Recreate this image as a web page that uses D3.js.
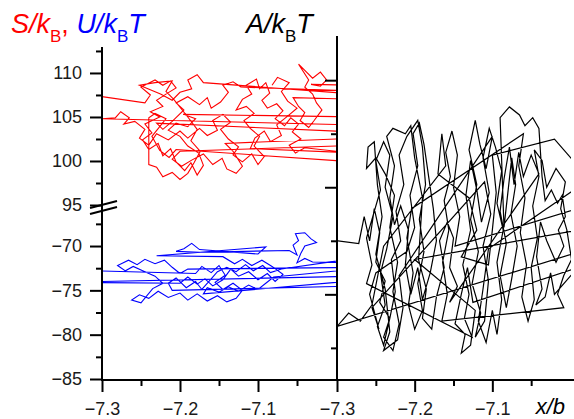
<!DOCTYPE html>
<html>
<head>
<meta charset="utf-8">
<script src="https://cdn.jsdelivr.net/npm/d3@7"></script>
<style>
  body { margin: 0; background: #fff; }
  text { font-family: "Liberation Sans", Arial, sans-serif; }
</style>
</head>
<body>
<svg id="chart" width="574" height="419"></svg>
<script>
// Globals
const width = 574, height = 419;
const svg = d3.select("#chart");

// tick values
const xMajor = [-7.3, -7.2, -7.1];
const xMinor = [-7.25, -7.15, -7.05];
const sMajor = [95, 100, 105, 110];
const sMinor = [97.5, 102.5, 107.5, 112.5];
const uMajor = [-85, -80, -75, -70];
const uMinor = [-82.5, -77.5, -72.5, -67.5];
const aMajor = [-182, -178, -174];
const aMinor = [-184, -180, -176];

// S/kB trajectory [x/b, S/kB]
const sData = [
  [-7.36,108.1],[-7.245,106.6],[-7.238,107.5],[-7.25,108.4],[-7.232,109.2],[-7.222,108.6],
  [-7.212,109.1],[-7.205,108.3],[-7.218,107.6],[-7.23,106.9],[-7.222,106.2],[-7.238,105.6],
  [-7.226,105.0],[-7.245,104.2],[-7.236,103.2],[-7.248,102.4],[-7.24,101.3],[-7.228,102.0],
  [-7.222,100.6],[-7.212,101.4],[-7.205,99.9],[-7.194,98.9],[-7.186,99.8],[-7.178,98.4],
  [-7.17,99.5],[-7.176,100.9],[-7.19,101.7],[-7.2,102.8],[-7.215,103.5],[-7.205,104.3],
  [-7.19,103.9],[-7.18,104.8],[-7.196,105.3],[-6.97,105.0],[-6.98,104.1],[-7.3,104.8],
  [-7.283,104.9],[-7.276,105.6],[-7.265,104.9],[-7.272,104.2],[-7.258,104.5],[-7.245,103.6],
  [-7.252,102.6],[-7.24,101.8],[-7.23,103.1],[-7.215,102.4],[-7.2,103.4],[-7.19,102.6],
  [-7.175,103.7],[-7.165,102.9],[-7.152,103.5],[-7.158,104.6],[-7.145,105.3],[-7.135,104.4],
  [-7.148,103.6],[-7.138,102.5],[-7.125,101.6],[-7.132,100.7],[-7.12,99.9],[-7.108,100.8],
  [-7.1,99.6],[-7.092,100.5],[-7.105,101.7],[-7.098,102.8],[-7.11,103.7],[-7.118,104.6],
  [-7.105,105.4],[-7.115,106.2],[-7.128,105.8],[-7.12,107.0],[-7.108,107.6],[-7.115,108.6],
  [-7.102,109.3],[-7.098,108.2],[-7.09,108.9],[-7.085,107.7],[-7.095,106.9],[-7.088,106.0],
  [-7.076,106.5],[-7.068,105.7],[-7.078,104.8],[-7.066,104.0],[-7.058,104.9],[-7.048,104.2],
  [-7.056,103.3],[-7.045,102.5],[-7.06,101.8],[-7.052,100.9],[-7.04,101.5],[-6.96,100.7],
  [-6.97,101.8],[-7.2,101.1],[-7.21,100.2],[-7.198,99.4],[-7.185,100.1],[-7.17,100.8],
  [-7.158,99.6],[-7.146,100.3],[-7.14,99.1],[-7.128,98.6],[-7.12,99.4],[-7.132,101.1],
  [-7.142,102.0],[-6.97,102.6],[-6.975,103.3],[-7.23,104.3],[-7.222,103.6],[-7.21,104.5],
  [-7.195,105.8],[-7.205,106.6],[-7.19,107.3],[-7.175,106.4],[-7.165,107.2],[-7.16,106.0],
  [-7.148,106.7],[-7.138,107.8],[-7.145,108.6],[-7.132,109.0],[-7.122,108.4],[-6.96,107.9],
  [-6.965,107.0],[-7.055,107.2],[-7.048,106.2],[-7.04,105.5],[-7.046,104.6],[-7.035,103.8],
  [-7.028,104.6],[-7.018,105.8],[-7.025,106.6],[-7.03,107.6],[-7.04,108.4],[-7.035,109.2],
  [-7.048,111.0],[-7.03,109.4],[-7.02,110.1],[-7.012,109.2],[-7.02,108.5],[-7.032,108.7],
  [-6.97,108.6],[-6.975,107.6],[-7.17,108.9],[-7.178,109.8],[-7.19,109.2],[-7.185,108.2],
  [-7.2,107.8],[-7.21,106.9],[-7.225,107.6],[-7.252,108.6],[-7.232,108.9],[-7.21,109.1],
  [-7.218,107.9],[-7.208,107.0],[-7.19,105.0],[-7.178,103.6],[-7.186,102.3],[-7.174,101.1],
  [-7.182,99.8],[-7.19,98.6],[-7.2,97.9],[-7.21,98.7],[-7.222,98.2],[-7.23,99.3],
  [-7.24,99.6],[-7.24,104.9],[-7.232,105.4],[-7.218,104.8],[-7.226,103.9],[-7.236,102.8],
  [-7.226,101.2],[-7.214,100.4],[-7.205,101.3],[-6.96,99.8],[-6.968,100.9],[-7.11,101.4],
  [-7.104,102.6],[-7.092,103.4],[-7.084,102.2],[-7.07,102.9],[-7.076,104.1],[-7.062,105.1],
  [-7.05,106.0],[-7.062,106.8],[-7.07,107.9],[-7.06,108.9],[-7.075,109.5],[-7.082,108.6]
];

// U/kBT trajectory [x/b, U/kBT]
const uData = [
  [-7.35,-72.7],[-7.18,-73.1],[-7.172,-72.3],[-7.16,-73.0],[-7.15,-72.2],[-7.142,-73.3],
  [-7.155,-74.1],[-7.145,-74.9],[-7.132,-74.2],[-7.12,-75.0],[-7.128,-75.9],[-7.14,-76.3],
  [-7.152,-75.6],[-7.165,-76.2],[-7.178,-75.4],[-7.19,-76.1],[-7.2,-75.3],[-7.215,-75.8],
  [-7.228,-75.1],[-7.24,-75.9],[-7.252,-75.5],[-7.262,-76.1],[-7.25,-76.4],[-7.235,-74.8],
  [-7.222,-74.2],[-7.232,-73.4],[-7.245,-72.9],[-7.26,-72.3],[-7.27,-72.8],[-7.28,-72.2],
  [-7.266,-71.6],[-7.255,-72.1],[-7.245,-71.5],[-7.232,-72.0],[-7.22,-71.6],[-7.21,-72.4],
  [-7.2,-73.1],[-7.19,-72.6],[-6.96,-72.4],[-6.97,-73.4],[-7.35,-74.1],[-7.2,-74.2],
  [-7.19,-73.5],[-7.178,-74.3],[-7.168,-73.7],[-7.158,-74.5],[-7.145,-73.8],[-7.135,-72.6],
  [-7.125,-73.4],[-7.112,-72.9],[-7.1,-73.8],[-7.088,-73.1],[-7.078,-74.0],[-7.068,-73.2],
  [-7.082,-72.3],[-7.095,-71.6],[-7.108,-72.2],[-7.12,-71.5],[-7.13,-72.0],[-7.145,-71.2],
  [-7.23,-71.1],[-7.09,-70.1],[-7.1,-70.9],[-7.175,-70.4],[-7.185,-69.7],[-7.195,-70.3],
  [-7.205,-70.6],[-7.175,-70.7],[-7.06,-70.5],[-7.05,-71.0],[-7.055,-69.9],[-7.048,-69.4],
  [-7.052,-68.6],[-7.04,-68.5],[-7.032,-69.2],[-7.025,-69.6],[-7.04,-70.0],[-7.045,-70.8],
  [-7.05,-71.9],[-7.04,-71.4],[-7.03,-71.8],[-6.97,-71.9],[-6.975,-72.6],[-7.08,-73.5],
  [-7.09,-74.2],[-7.1,-74.9],[-7.112,-74.4],[-7.125,-75.1],[-7.138,-74.6],[-7.15,-75.2],
  [-7.165,-74.7],[-7.17,-75.4],[-6.96,-73.8],[-6.97,-74.5],[-7.21,-75.0],[-7.215,-74.2],
  [-7.205,-73.6],[-7.192,-74.7],[-7.18,-74.0],[-7.172,-74.9],[-7.162,-73.9],[-7.152,-72.9],
  [-7.14,-72.4],[-7.128,-72.9],[-7.116,-72.1],[-7.106,-72.8],[-7.094,-72.2],[-7.084,-73.0],
  [-7.07,-72.6],[-6.96,-71.2]
];

// A/kBT trajectory [x/b, A/kBT]
const aData = [
  [-7.30,-180.0],[-7.272,-180.1],[-7.265,-179.1],[-7.258,-180.0],[-7.252,-178.8],[-7.245,-179.7],
  [-7.25,-180.8],[-7.238,-181.5],[-7.245,-182.3],[-7.232,-182.9],[-7.24,-183.6],[-7.228,-184.1],
  [-7.22,-183.1],[-7.228,-181.9],[-7.222,-180.8],[-7.232,-179.5],[-7.226,-178.3],[-7.238,-177.5],
  [-7.25,-176.9],[-7.262,-177.3],[-7.26,-176.5],[-7.252,-176.3],[-7.248,-177.9],[-7.242,-179.1],
  [-7.25,-180.5],[-7.238,-181.8],[-7.232,-183.4],[-7.24,-184.1],[-7.222,-183.7],[-7.215,-182.5],
  [-7.22,-181.3],[-7.10,-176.1],[-7.108,-177.3],[-7.116,-176.4],[-7.122,-175.5],[-7.13,-176.6],
  [-7.12,-177.9],[-7.128,-179.2],[-7.118,-180.4],[-7.126,-181.6],[-7.115,-182.7],[-7.122,-183.6],
  [-7.11,-183.0],[-7.105,-181.5],[-7.112,-180.2],[-7.102,-179.0],[-7.11,-177.8],[-7.255,-182.5],
  [-7.246,-183.3],[-7.258,-182.0],[-7.25,-181.2],[-7.21,-180.4],[-7.2,-179.5],[-7.206,-178.3],
  [-7.196,-177.2],[-7.202,-176.0],[-7.194,-175.6],[-7.188,-176.4],[-7.182,-177.6],[-7.176,-178.8],
  [-7.172,-180.0],[-7.18,-181.2],[-7.19,-182.2],[-7.196,-181.0],[-7.205,-182.0],[-7.212,-180.9],
  [-7.208,-179.6],[-7.218,-178.7],[-7.226,-179.4],[-7.232,-178.4],[-7.226,-177.2],[-7.236,-176.1],
  [-7.228,-175.8],[-7.212,-176.0],[-7.205,-175.7],[-7.2,-176.9],[-7.19,-178.4],[-7.195,-180.7],
  [-7.185,-181.8],[-7.19,-182.9],[-7.178,-183.3],[-7.172,-182.1],[-7.162,-181.0],[-7.168,-180.0],
  [-7.158,-179.3],[-7.15,-179.9],[-7.155,-181.0],[-7.145,-181.7],[-7.155,-182.3],[-7.04,-177.5],
  [-7.05,-176.8],[-7.06,-177.6],[-7.066,-176.7],[-7.072,-177.9],[-7.078,-176.5],[-7.085,-177.7],
  [-7.09,-178.9],[-7.082,-180.1],[-7.09,-181.3],[-7.082,-182.5],[-7.075,-181.4],[-7.068,-180.2],
  [-7.076,-179.0],[-7.07,-177.9],[-7.075,-176.9],[-7.085,-179.5],[-7.088,-177.0],[-7.09,-175.4],
  [-7.078,-175.0],[-7.065,-175.3],[-7.058,-175.7],[-7.048,-175.4],[-7.04,-175.8],[-7.036,-177.6],
  [-7.032,-178.5],[-7.024,-178.1],[-7.016,-178.6],[-7.01,-178.3],[-7.006,-179.1],[-7.015,-179.6],
  [-7.008,-180.2],[-7.018,-180.8],[-7.03,-180.0],[-7.038,-179.3],[-7.043,-180.6],[-7.036,-181.8],
  [-7.044,-182.4],[-7.032,-182.1],[-7.025,-181.2],[-7.02,-182.0],[-6.99,-181.0],[-7.125,-182.3],
  [-7.132,-181.0],[-7.14,-182.0],[-7.148,-183.1],[-7.135,-183.5],[-7.14,-184.2],[-7.128,-183.9],
  [-7.122,-182.6],[-7.2,-180.7],[-6.99,-179.6],[-6.998,-180.5],[-7.3,-183.2],[-7.285,-182.7],
  [-7.27,-183.0],[-7.255,-182.4],[-7.24,-180.2],[-7.16,-177.2],[-7.165,-176.0],[-7.17,-177.5],
  [-7.13,-178.4],[-7.12,-179.6],[-7.14,-180.6],[-7.105,-180.9],[-7.1,-179.6],[-7.095,-178.2],
  [-7.1,-176.8],[-7.02,-176.2],[-6.99,-177.2],[-6.995,-178.1],[-7.105,-180.3],[-7.112,-181.8],
  [-7.118,-183.0],[-7.108,-183.8],[-7.1,-182.6],[-7.094,-183.5],[-7.088,-182.2],[-7.094,-180.8],
  [-7.086,-179.6],[-7.094,-178.6],[-7.088,-177.4],[-7.096,-176.5],[-7.104,-175.8],[-7.112,-176.9],
  [-7.104,-178.2],[-7.114,-179.3],[-7.12,-178.1],[-7.128,-177.0],[-7.134,-178.3],[-7.128,-179.6],
  [-7.138,-180.9],[-7.13,-182.0],[-7.136,-182.9],[-7.126,-183.6],[-7.262,-181.6],[-7.255,-180.9],
  [-7.262,-179.9],[-7.252,-178.9],[-7.244,-178.1],[-7.25,-177.0],[-7.24,-176.3],[-7.232,-176.8],
  [-7.238,-178.0],[-7.228,-179.1],[-7.236,-180.3],[-7.244,-181.2],[-7.238,-182.4],[-7.248,-183.2],
  [-7.24,-183.9],[-7.232,-182.9],[-7.225,-181.9],[-7.23,-180.7],[-7.218,-180.0],[-7.224,-178.9],
  [-7.214,-177.9],[-7.22,-176.8],[-7.21,-176.1],[-7.196,-175.5],[-7.19,-176.5],[-7.186,-177.9],
  [-7.194,-179.2],[-7.188,-180.4],[-7.196,-181.6],[-7.19,-182.6],[-7.2,-183.3],[-7.208,-182.4],
  [-7.202,-181.2],[-7.21,-179.9],[-7.204,-178.8],[-7.06,-176.0],[-7.066,-177.2],[-7.058,-178.4],
  [-7.064,-179.7],[-7.056,-180.9],[-7.062,-182.1],[-7.054,-183.0],[-7.046,-182.2],[-7.05,-181.0],
  [-7.042,-179.9],[-7.048,-178.7],[-7.04,-177.6],[-7.046,-176.6],[-7.036,-177.0],[-7.03,-178.0],
  [-7.018,-177.3],[-7.006,-177.8],[-7.012,-178.8],[-7.004,-179.6],[-6.998,-180.7],[-7.008,-181.3],
  [-7.016,-182.0],[-7.008,-182.5],[-7.165,-183.0],[-7.158,-182.0],[-7.164,-180.8],[-7.156,-179.6],
  [-7.162,-178.5],[-7.154,-177.6],[-7.16,-176.7],[-7.152,-175.9],[-7.145,-176.8],[-7.15,-178.0],
  [-7.142,-179.1],[-7.148,-180.2],[-6.99,-178.8]
];

// Scales
const axisY = 380;
const xL = d3.scaleLinear().domain([-7.3, -7.0]).range([102, 336]);
const xR = d3.scaleLinear().domain([-7.3, -7.0]).range([337, 570]);
const yS = d3.scaleLinear().domain([95, 112.95]).range([205, 47]);
const yU = d3.scaleLinear().domain([-85, -66.5]).range([379, 215]);
const yA = d3.scaleLinear().domain([-185.2, -172.35]).range([380, 36]);

// clip regions for the two panels
const defs = svg.append("defs");
defs.append("clipPath").attr("id", "clipL")
  .append("rect").attr("x", 102).attr("y", 30).attr("width", 234).attr("height", 350);
defs.append("clipPath").attr("id", "clipR")
  .append("rect").attr("x", 338).attr("y", 30).attr("width", 233).attr("height", 350);

function drawTrace(data, x, y, color, clip, w) {
  const line = d3.line().x(d => x(d[0])).y(d => y(d[1]));
  svg.append("path")
    .datum(data)
    .attr("clip-path", `url(#${clip})`)
    .attr("fill", "none")
    .attr("stroke", color)
    .attr("stroke-width", w)
    .attr("stroke-linejoin", "miter")
    .attr("d", line);
}

drawTrace(sData, xL, yS, "#ff0000", "clipL", 1.1);
drawTrace(uData, xL, yU, "#0000ff", "clipL", 1.1);
drawTrace(aData, xR, yA, "#000000", "clipR", 1.2);

// Axes
function styleAxis(g) {
  g.select(".domain").remove();
  g.selectAll(".tick line").attr("stroke", "#000").attr("stroke-width", 2);
  g.selectAll(".tick text").attr("fill", "#1a1a1a").style("font-size", "18px")
    .style("font-family", "'Liberation Sans', Arial, sans-serif");
}

// left axis, top and bottom part
svg.append("g").attr("transform", "translate(102,0)")
  .call(d3.axisLeft(yS).tickValues(sMajor).tickSize(12).tickPadding(8))
  .call(styleAxis);
svg.append("g").attr("transform", "translate(102,0)")
  .call(d3.axisLeft(yS).tickValues(sMinor).tickSize(6).tickFormat(""))
  .call(styleAxis);
svg.append("g").attr("transform", "translate(102,0)")
  .call(d3.axisLeft(yU).tickValues(uMajor).tickSize(12).tickPadding(8))
  .call(styleAxis);
svg.append("g").attr("transform", "translate(102,0)")
  .call(d3.axisLeft(yU).tickValues(uMinor).tickSize(6).tickFormat(""))
  .call(styleAxis);

// right panel axis (no labels)
svg.append("g").attr("transform", "translate(337,0)")
  .call(d3.axisLeft(yA).tickValues(aMajor).tickSize(12).tickFormat(""))
  .call(styleAxis);
svg.append("g").attr("transform", "translate(337,0)")
  .call(d3.axisLeft(yA).tickValues(aMinor).tickSize(6).tickFormat(""))
  .call(styleAxis);

// bottom axes
[xL, xR].forEach(x => {
  svg.append("g").attr("transform", `translate(0,${axisY})`)
    .call(d3.axisBottom(x).tickValues(xMajor).tickSize(12).tickPadding(10).tickFormat(d3.format(".1f")))
    .call(styleAxis);
  svg.append("g").attr("transform", `translate(0,${axisY})`)
    .call(d3.axisBottom(x).tickValues(xMinor).tickSize(6).tickFormat(""))
    .call(styleAxis);
});

// axis lines
svg.append("line").attr("x1", 102).attr("x2", 102).attr("y1", 47).attr("y2", axisY + 1)
  .attr("stroke", "#000").attr("stroke-width", 2);
svg.append("line").attr("x1", 337).attr("x2", 337).attr("y1", 36).attr("y2", axisY + 1)
  .attr("stroke", "#000").attr("stroke-width", 2);
svg.append("line").attr("x1", 101).attr("x2", width).attr("y1", axisY).attr("y2", axisY)
  .attr("stroke", "#000").attr("stroke-width", 2);

// axis break marks
[0, 6].forEach(off => {
  svg.append("line")
    .attr("x1", 90).attr("y1", 208 + off).attr("x2", 117).attr("y2", 201 + off)
    .attr("stroke", "#000").attr("stroke-width", 2);
});

// titles
const t1 = svg.append("text").attr("x", 11).attr("y", 33).style("font-size", "27px");
t1.append("tspan").attr("fill", "#ff0000").style("font-style", "italic").text("S/k");
t1.append("tspan").attr("fill", "#ff0000").attr("dy", 9).style("font-size", "17px").text("B");
t1.append("tspan").attr("fill", "#ff0000").attr("dy", -9).text(", ");
t1.append("tspan").attr("fill", "#0000ff").style("font-style", "italic").text("U/k");
t1.append("tspan").attr("fill", "#0000ff").attr("dy", 9).style("font-size", "17px").text("B");
t1.append("tspan").attr("fill", "#0000ff").attr("dy", -9).style("font-style", "italic").text("T");

const t2 = svg.append("text").attr("x", 246).attr("y", 33).style("font-size", "27px").attr("fill", "#000");
t2.append("tspan").style("font-style", "italic").text("A/k");
t2.append("tspan").attr("dy", 9).style("font-size", "17px").text("B");
t2.append("tspan").attr("dy", -9).style("font-style", "italic").text("T");

svg.append("text").attr("x", 565).attr("y", 414).attr("text-anchor", "end")
  .style("font-size", "22px").style("font-style", "italic").text("x/b");
</script>
</body>
</html>
